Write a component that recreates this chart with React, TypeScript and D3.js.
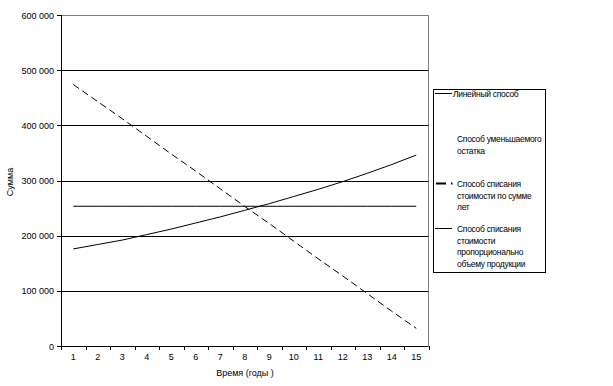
import React from 'react';
import * as d3 from 'd3';

// years on the x axis
const years = [1, 2, 3, 4, 5, 6, 7, 8, 9, 10, 11, 12, 13, 14, 15];
const yTicks = [0, 100000, 200000, 300000, 400000, 500000, 600000];

// Линейный способ
const linear = [253300, 253300, 253300, 253300, 253300, 253300, 253300, 253300, 253300, 253300, 253300, 253300, 253300, 253300, 253300];
// Способ списания стоимости по сумме лет
const sumOfYears = [474000, 443000, 412000, 380000, 348000, 317000, 285000, 253000, 222000, 190000, 158000, 127000, 95000, 63000, 32000];
// Способ списания стоимости пропорционально объему продукции
const production = [176000, 184000, 192000, 202000, 212000, 223000, 234000, 246000, 258000, 271000, 284000, 298000, 313000, 329000, 346000];

const legendItems = [
  { lines: ['Линейный способ'], symbol: 'solid' },
  { lines: ['Способ уменьшаемого', 'остатка'], symbol: 'none' },
  { lines: ['Способ списания', 'стоимости по сумме', 'лет'], symbol: 'dash' },
  { lines: ['Способ списания', 'стоимости', 'пропорционально', 'объему продукции'], symbol: 'solid' },
];

const fmt = d3.formatLocale({ decimal: ',', thousands: ' ', grouping: [3], currency: ['', ''] }).format(',');

export default function App() {
  const W = 613, H = 386;
  const left = 61, right = 428.5, top = 15, bottom = 346;
  const font = 'Liberation Sans, Arial, sans-serif';

  const x = d3.scaleBand<number>().domain(years).range([left, right]).paddingInner(0).paddingOuter(0);
  const y = d3.scaleLinear().domain([0, 600000]).range([bottom, top]);
  const cx = (d: number) => (x(d) as number) + x.bandwidth() / 2;

  const line = d3.line<number>().x((_, i) => cx(years[i])).y(d => y(d));

  const legendTop = [96, 141, 186, 231];

  return (
    <svg width={W} height={H} style={{ position: 'absolute', left: 0, top: 0, background: '#fff' }} fontFamily={font}>
      {/* plot border top/right */}
      <line x1={left} x2={right} y1={top + 0.5} y2={top + 0.5} stroke="#808080" />
      <line x1={right} x2={right} y1={top} y2={bottom} stroke="#808080" />
      {/* gridlines */}
      {yTicks.filter(t => t > 0 && t < 600000).map(t => (
        <line key={t} x1={left} x2={right} y1={Math.round(y(t)) + 0.5} y2={Math.round(y(t)) + 0.5} stroke="#000" />
      ))}
      {/* y axis */}
      <line x1={left + 0.5} x2={left + 0.5} y1={top} y2={bottom} stroke="#000" />
      {yTicks.map(t => (
        <g key={t}>
          <line x1={left - 4} x2={left} y1={Math.round(y(t)) + 0.5} y2={Math.round(y(t)) + 0.5} stroke="#000" />
          <text x={54} y={y(t) + 3.5} fontSize={9} textAnchor="end">{fmt(t)}</text>
        </g>
      ))}
      {/* x axis */}
      <line x1={left} x2={right} y1={bottom + 0.5} y2={bottom + 0.5} stroke="#000" />
      {years.concat([16]).map((d, i) => {
        const xx = Math.round(i < years.length ? (x(d) as number) : right) + 0.5;
        return <line key={'t' + d} x1={xx} x2={xx} y1={bottom} y2={bottom + 4} stroke="#000" />;
      })}
      {years.map(d => (
        <text key={'l' + d} x={cx(d)} y={360} fontSize={9} textAnchor="middle">{d}</text>
      ))}
      <text x={245} y={376} fontSize={9} textAnchor="middle">Время (годы )</text>
      <text transform="translate(13,182) rotate(-90)" fontSize={9} textAnchor="middle">Сумма</text>

      {/* series */}
      <path d={line(linear) as string} fill="none" stroke="#000" strokeWidth={1} />
      <path d={line(production) as string} fill="none" stroke="#000" strokeWidth={1} />
      <path d={line(sumOfYears) as string} fill="none" stroke="#000" strokeWidth={1} strokeDasharray="7,4" />

      {/* legend */}
      <rect x={433.5} y={89.5} width={112} height={183} fill="#fff" stroke="#000" />
      {legendItems.map((item, i) => (
        <g key={i}>
          {item.symbol === 'solid' && (
            <line x1={435} x2={452} y1={legendTop[i] - 2.5} y2={legendTop[i] - 2.5} stroke="#000" />
          )}
          {item.symbol === 'dash' && (
            <g>
              <line x1={436} x2={446} y1={legendTop[i] - 2.5} y2={legendTop[i] - 2.5} stroke="#000" strokeWidth={2} />
              <line x1={451} x2={452.5} y1={legendTop[i] - 2.5} y2={legendTop[i] - 2.5} stroke="#000" strokeWidth={2} />
            </g>
          )}
          {item.lines.map((s, j) => (
            <text key={j} x={i === 0 ? 453 : 457} y={legendTop[i] + j * 11.5 + 1} fontSize={8.5} letterSpacing={-0.3}>{s}</text>
          ))}
        </g>
      ))}
    </svg>
  );
}
